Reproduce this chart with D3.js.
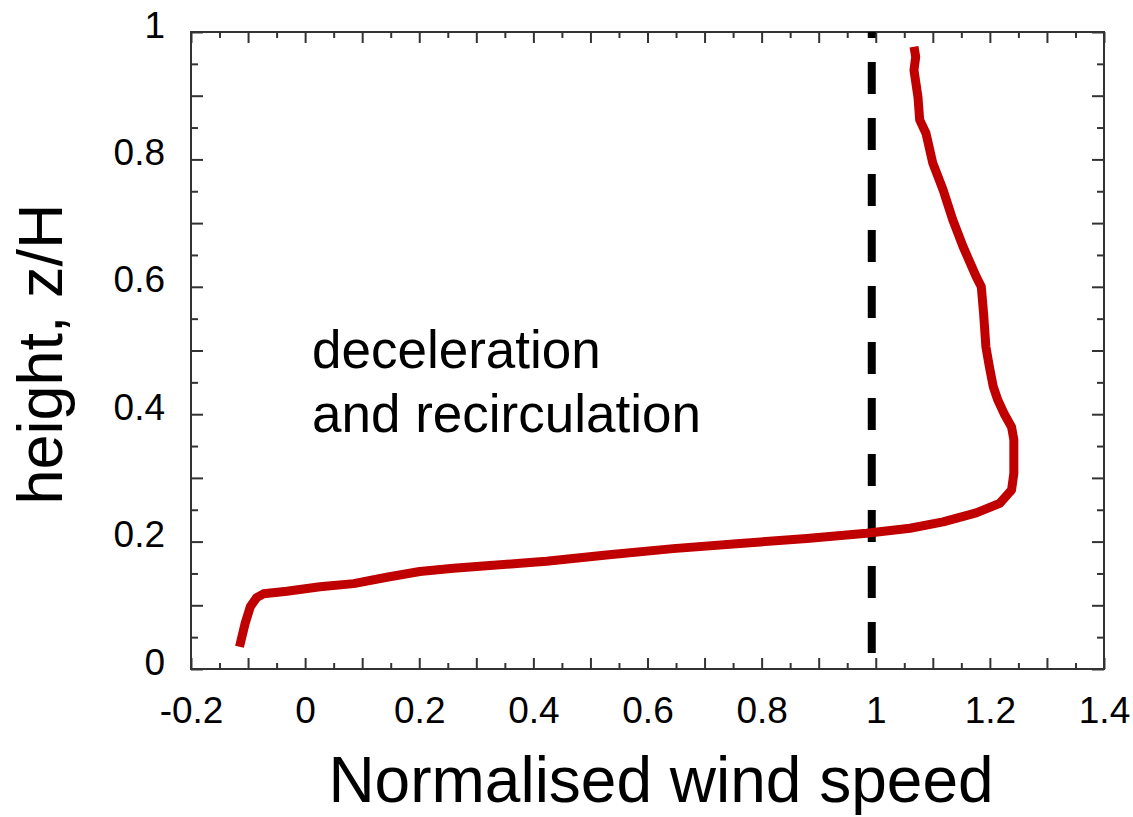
<!DOCTYPE html>
<html>
<head>
<meta charset="utf-8">
<script src="https://cdn.jsdelivr.net/npm/d3@7"></script>
<style>
  body { margin: 0; background: #fff; }
  text { font-family: "Liberation Sans", Arial, sans-serif; fill: #000; }
</style>
</head>
<body>
<script>
//** Profile data: normalised wind speed against height z/H (bottom to top)
var windSpeed = [-0.115, -0.105, -0.096, -0.085, -0.073, -0.032, 0.026, 0.085, 0.143, 0.201,
                 0.26, 0.318, 0.377, 0.423, 0.528, 0.645, 0.762, 0.879, 0.984, 1.06,
                 1.118, 1.176, 1.217, 1.238, 1.242, 1.242, 1.238, 1.226, 1.214, 1.206,
                 1.199, 1.193, 1.189, 1.185, 1.176, 1.153, 1.135, 1.118, 1.1, 1.088,
                 1.077, 1.074, 1.067, 1.07, 1.067];
var heightZH = [0.035, 0.072, 0.098, 0.112, 0.118, 0.122, 0.129, 0.134, 0.144, 0.153,
                0.158, 0.162, 0.166, 0.169, 0.179, 0.189, 0.197, 0.205, 0.213, 0.221,
                0.231, 0.245, 0.26, 0.281, 0.307, 0.36, 0.38, 0.399, 0.422, 0.443,
                0.475, 0.506, 0.558, 0.6, 0.616, 0.663, 0.705, 0.752, 0.794, 0.841,
                0.862, 0.898, 0.94, 0.961, 0.977];

//** Reference line (free stream speed) and its vertical extent
var refSpeed = 0.993;
var refHeight = [0.025, 1];

//** Tick labels
var xTickLabels = ['-0.2', '0', '0.2', '0.4', '0.6', '0.8', '1', '1.2', '1.4'];
var yTickLabels = ['0', '0.2', '0.4', '0.6', '0.8', '1'];

var annotation = ['deceleration', 'and recirculation'];

// ** Container
var width = 1133, height = 817;
var svg = d3.select('body').append('svg')
    .attr('width', width)
    .attr('height', height);

var mLeft = 191, mRight = 1104, mTop = 32, mBottom = 669;

var x = d3.scaleLinear().domain([-0.2, 1.4]).range([mLeft, mRight]);
var y = d3.scaleLinear().domain([0, 1]).range([mBottom, mTop]);

// ** Ticks: long every 0.1, short on the 0.05s
var isMajor = function(v){ return Math.abs(Math.round(v * 10) - v * 10) < 1e-6; };
var xMajor = x.ticks(32).filter(isMajor), xMinor = x.ticks(32).filter(function(v){ return !isMajor(v); });
var yMajor = y.ticks(20).filter(isMajor), yMinor = y.ticks(20).filter(function(v){ return !isMajor(v); });

//** label only where the picture has one, with a plain hyphen minus
var labelFor = function(list){
  return function(d){
    var s = String(+d.toFixed(2));
    return list.indexOf(s) >= 0 ? s : '';
  };
};

var drawAxis = function(axis, tx, ty){
  var g = svg.append('g').attr('transform', 'translate(' + tx + ',' + ty + ')').call(axis);
  g.select('.domain').remove();
  g.selectAll('line').attr('stroke', '#333').attr('stroke-width', 2);
  g.selectAll('text').style('font-size', '37px').attr('fill', '#000');
  return g;
};

//** bottom
drawAxis(d3.axisBottom(x).tickValues(xMajor).tickSize(-11).tickPadding(27.5)
    .tickFormat(labelFor(xTickLabels)), 0, mBottom);
drawAxis(d3.axisBottom(x).tickValues(xMinor).tickSize(-6).tickFormat(''), 0, mBottom);
//** top
drawAxis(d3.axisTop(x).tickValues(xMajor).tickSize(-11).tickFormat(''), 0, mTop);
drawAxis(d3.axisTop(x).tickValues(xMinor).tickSize(-6).tickFormat(''), 0, mTop);
//** left
var yl = drawAxis(d3.axisLeft(y).tickValues(yMajor).tickSize(-12).tickPadding(26)
    .tickFormat(labelFor(yTickLabels)), mLeft, 0);
yl.selectAll('text').attr('dy', '0.135em');
drawAxis(d3.axisLeft(y).tickValues(yMinor).tickSize(-7).tickFormat(''), mLeft, 0);
//** right
drawAxis(d3.axisRight(y).tickValues(yMajor).tickSize(-12).tickFormat(''), mRight, 0);
drawAxis(d3.axisRight(y).tickValues(yMinor).tickSize(-7).tickFormat(''), mRight, 0);

// ** Frame
svg.append('rect')
    .attr('x', mLeft).attr('y', mTop)
    .attr('width', mRight - mLeft).attr('height', mBottom - mTop)
    .attr('fill', 'none')
    .attr('stroke', '#333')
    .attr('stroke-width', 2);

// ** Dashed reference line
svg.append('line')
    .attr('x1', x(refSpeed)).attr('x2', x(refSpeed))
    .attr('y1', y(refHeight[1])).attr('y2', y(refHeight[0]))
    .attr('stroke', '#000')
    .attr('stroke-width', 8)
    .attr('stroke-dasharray', '32,24')
    .attr('stroke-dashoffset', 26);

// ** Wind profile
var line = d3.line()
    .x(function(d){ return x(d[0]); })
    .y(function(d){ return y(d[1]); });

svg.append('path')
    .datum(d3.zip(windSpeed, heightZH))
    .attr('d', line)
    .attr('fill', 'none')
    .attr('stroke', '#c00000')
    .attr('stroke-width', 9)
    .attr('stroke-linejoin', 'round')
    .attr('stroke-linecap', 'butt');

// ** Annotation
svg.append('text')
    .attr('x', 312).attr('y', 368)
    .style('font-size', '53px')
    .selectAll('tspan').data(annotation).enter().append('tspan')
    .attr('x', 312)
    .attr('dy', function(d,i){ return i === 0 ? 0 : 63.5; })
    .text(function(d){ return d; });

// ** Axis titles
svg.append('text')
    .attr('x', 661).attr('y', 802)
    .attr('text-anchor', 'middle')
    .style('font-size', '64px')
    .text('Normalised wind speed');

svg.append('text')
    .attr('transform', 'translate(62,354) rotate(-90)')
    .attr('text-anchor', 'middle')
    .style('font-size', '63px')
    .text('height, z/H');
</script>
</body>
</html>
